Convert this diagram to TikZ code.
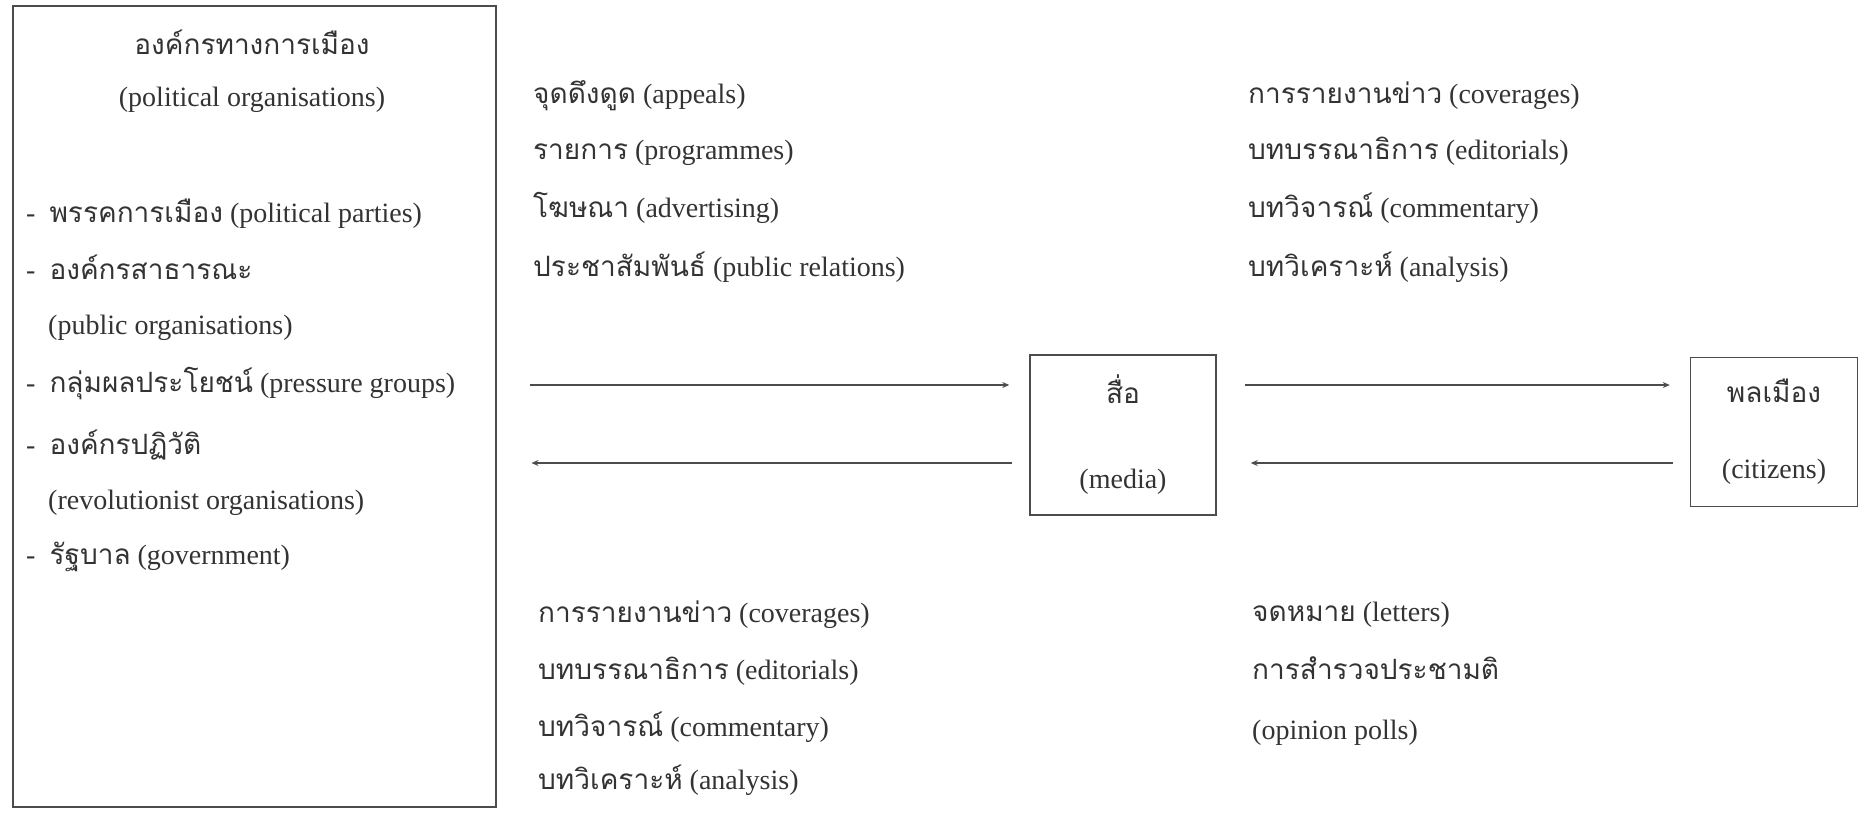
\documentclass[tikz,border=0pt]{standalone}
\usepackage{fontspec}
\setmainfont{Liberation Serif}
\newfontfamily\thai[Script=Thai]{Loma}
\usetikzlibrary{arrows.meta}
\definecolor{ink}{gray}{0.2}
\definecolor{rulec}{gray}{0.3}
\begin{document}
\begin{tikzpicture}[x=1pt,y=-1pt,
  every node/.style={text=ink, inner sep=0pt, font=\fontsize{28}{34}\selectfont},
  box/.style={draw=rulec, line width=1.5pt},
  lbl/.style={anchor=base west},
  ctr/.style={anchor=base},
  arr/.style={draw=rulec, line width=1.5pt, -{Stealth[length=7pt,width=6pt]}}]
\path[use as bounding box] (0,0) rectangle (1862,814);

% left box
\node[box, anchor=north west, minimum width=483, minimum height=801] (org) at (12,5) {};
\node[ctr] (t0) at (252,54) {\thai องค์กรทางการเมือง};
\node[ctr] (t1) at (252,106) {(political organisations)};
\node[lbl] (i1) at (26,222) {-\hspace{14pt}{\thai พรรคการเมือง} (political parties)};
\node[lbl] (i2) at (26,279) {-\hspace{14pt}{\thai องค์กรสาธารณะ}};
\node[lbl] (i2b) at (48,334) {(public organisations)};
\node[lbl] (i3) at (26,392) {-\hspace{14pt}{\thai กลุ่มผลประโยชน์} (pressure groups)};
\node[lbl] (i4) at (26,454) {-\hspace{14pt}{\thai องค์กรปฏิวัติ}};
\node[lbl] (i4b) at (48,509) {(revolutionist organisations)};
\node[lbl] (i5) at (26,564) {-\hspace{14pt}{\thai รัฐบาล} (government)};

% top middle
\node[lbl] (m1) at (533,103) {{\thai จุดดึงดูด} (appeals)};
\node[lbl] (m2) at (533,159) {{\thai รายการ} (programmes)};
\node[lbl] (m3) at (533,217) {{\thai โฆษณา} (advertising)};
\node[lbl] (m4) at (533,276) {{\thai ประชาสัมพันธ์} (public relations)};

% top right
\node[lbl] (r1) at (1248,103) {{\thai การรายงานข่าว} (coverages)};
\node[lbl] (r2) at (1248,159) {{\thai บทบรรณาธิการ} (editorials)};
\node[lbl] (r3) at (1248,217) {{\thai บทวิจารณ์} (commentary)};
\node[lbl] (r4) at (1248,276) {{\thai บทวิเคราะห์} (analysis)};

% boxes
\node[box, minimum width=186, minimum height=160, align=center,
      font=\fontsize{28}{85}\selectfont] (media) at (1123,435) {{\thai สื่อ}\\(media)};
\node[box, minimum width=167, minimum height=149, align=center,
      font=\fontsize{28}{76}\selectfont] (cit) at (1774,432) {{\thai พลเมือง}\\(citizens)};

% arrows
\coordinate (ya) at (0,385);
\coordinate (yb) at (0,463);
\draw[arr, shorten <=33pt, shorten >=20pt] (org.east |- ya) -- (media.west |- ya);
\draw[arr, shorten <=17pt, shorten >=35pt] (media.west |- yb) -- (org.east |- yb);
\draw[arr, shorten <=28pt, shorten >=20pt] (media.east |- ya) -- (cit.west |- ya);
\draw[arr, shorten <=17pt, shorten >=34pt] (cit.west |- yb) -- (media.east |- yb);

% bottom middle
\node[lbl] (b1) at (538,622) {{\thai การรายงานข่าว} (coverages)};
\node[lbl] (b2) at (538,679) {{\thai บทบรรณาธิการ} (editorials)};
\node[lbl] (b3) at (538,736) {{\thai บทวิจารณ์} (commentary)};
\node[lbl] (b4) at (538,789) {{\thai บทวิเคราะห์} (analysis)};

% bottom right
\node[lbl] (c1) at (1252,621) {{\thai จดหมาย} (letters)};
\node[lbl] (c2) at (1252,679) {\thai การสำรวจประชามติ};
\node[lbl] (c3) at (1252,739) {(opinion polls)};
\end{tikzpicture}
\end{document}
